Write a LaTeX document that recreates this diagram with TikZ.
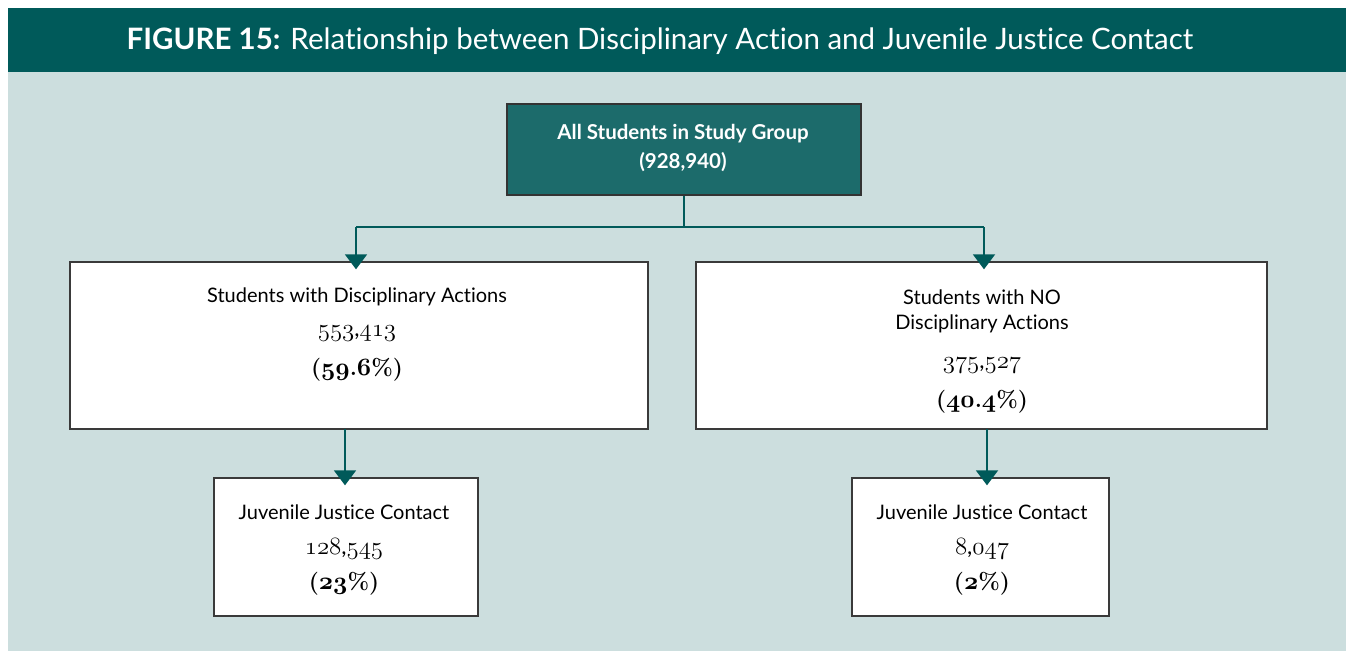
\documentclass[tikz,border=0pt]{standalone}
\usepackage{fontspec}
\setmainfont{Lato}[Ligatures={NoCommon,NoRare,NoContextual}]
\newfontfamily\numfont{Latin Modern Roman}
\usetikzlibrary{arrows.meta}
\definecolor{hdr}{HTML}{005A5A}
\definecolor{bgc}{HTML}{CCDEDE}
\definecolor{topfill}{HTML}{1C6B6B}
\definecolor{edge}{HTML}{3A3A3A}
\newcommand\osn[1]{{\usefont{OML}{cmm}{m}{it}#1}}
\newcommand\osnb[1]{{\usefont{OML}{cmm}{b}{it}#1}}
\newcommand\bdot{\textbf{\numfont.}}
\newcommand\bpct[1]{\textbf{\numfont(}#1\textbf{\numfont\%)}}
\newcommand\tI{t\kern0pt i}
\tikzset{
  box/.style={draw=edge, line width=1.4pt, fill=white, inner sep=0pt},
  topbox/.style={draw=black!80, line width=1.4pt, fill=topfill, inner sep=0pt},
  lbl/.style={inner sep=0pt, font=\fontsize{20}{24}\selectfont},
  toplbl/.style={inner sep=0pt, text=white, font=\fontsize{20.5}{24}\selectfont\bfseries},
  num/.style={inner sep=0pt, font=\fontsize{23}{26}\selectfont},
  conn/.style={draw=hdr, line width=2pt, -{Triangle[width=22pt,length=15pt]}},
  plain/.style={draw=hdr, line width=2pt}
}
\begin{document}
\begin{tikzpicture}[x=1pt,y=-1pt]
\useasboundingbox (0,0) rectangle (1346,651);
\fill[white] (0,0) rectangle (1346,651);
\fill[bgc] (8,72) rectangle (1346,651);
\fill[hdr] (8,8) rectangle (1346,72);
\node[text=white, inner sep=0pt, font=\fontsize{29.5}{32}\selectfont] (title) at (660,41)
  {\textbf{FIGURE 15:} Relationship between Disciplinary Ac\tI on and Juvenile Jus\tI ce Contact};

% boxes
\node[topbox, minimum width=354pt, minimum height=91pt] (all) at (684,149.5) {};
\node[box, minimum width=578pt, minimum height=167pt] (dis) at (359,345.5) {};
\node[box, minimum width=571pt, minimum height=167pt] (nodis) at (981.5,345.5) {};
\node[box, minimum width=264pt, minimum height=138pt] (jjl) at (346,547) {};
\node[box, minimum width=257pt, minimum height=138pt] (jjr) at (980.5,547) {};

% texts
\node[toplbl] (t1) at (683,134) {All Students in Study Group};
\node[toplbl] (t2) at (683,162) {(928,940)};

\node[lbl] (d1) at (357,297) {Students with Disciplinary Ac\tI ons};
\node[num] (d2) at (357,334) {\osn{553},\osn{413}};
\node[num] (d3) at (357,370) {\bpct{\osnb{59}\bdot\osnb{6}}};

\node[lbl] (n1) at (982,297) {Students with NO};
\node[lbl] (n2) at (982,324) {Disciplinary Ac\tI ons};
\node[num] (n3) at (982,366) {\osn{375},\osn{527}};
\node[num] (n4) at (982,402) {\bpct{\osnb{40}\bdot\osnb{4}}};

\node[lbl] (l1) at (344,512) {Juvenile Jus\tI ce Contact};
\node[num] (l2) at (344,549) {\osn{128},\osn{545}};
\node[num] (l3) at (344,584) {\bpct{\osnb{23}}};

\node[lbl] (r1) at (982,512) {Juvenile Jus\tI ce Contact};
\node[num] (r2) at (982,549) {\osn{8},\osn{047}};
\node[num] (r3) at (982,584) {\bpct{\osnb{2}}};

% connectors
\coordinate (split) at (684,227);
\coordinate (splitl) at (356,227);
\coordinate (splitr) at (984,227);
\draw[plain] (all.south) -- (split);
\draw[plain] (splitl) -- (splitr);
\draw[conn] (splitl) -- ([yshift=-8pt]splitl |- dis.north);
\draw[conn] (splitr) -- ([yshift=-8pt]splitr |- nodis.north);
\draw[conn] (345,429) -- ([yshift=-8pt]345,0 |- jjl.north);
\draw[conn] (987,429) -- ([yshift=-8pt]987,0 |- jjr.north);
\end{tikzpicture}
\end{document}
